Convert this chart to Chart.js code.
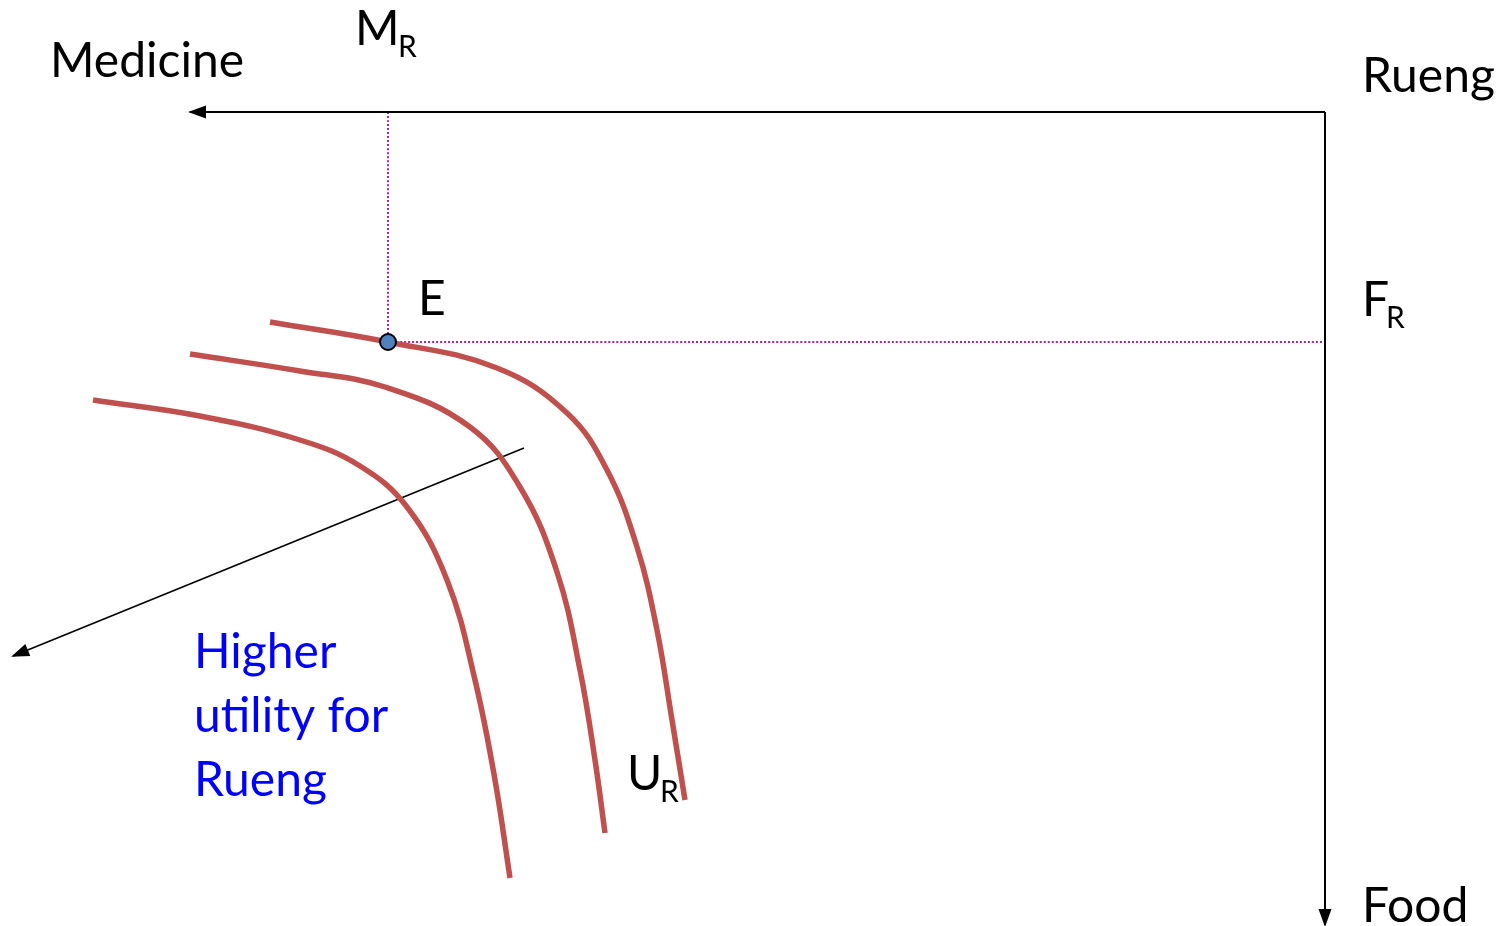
<!DOCTYPE html>
<html>
<head>
<meta charset="utf-8">
<script src="https://cdn.jsdelivr.net/npm/chart.js@4/dist/chart.umd.min.js"></script>
<style>
  body { margin: 0; background: #fff; }
  #wrap { width: 1510px; height: 926px; }
</style>
</head>
<body>
<div id="wrap"><canvas id="chart"></canvas></div>
<script>
// Edgeworth-box style diagram, origin at Rueng (top right)
// medicine is measured to the left, food is measured downward

// indifference curves: medicine, food pairs
const curveUR = [[10.55, 2.10], [9.37, 2.30], [8.28, 2.56], [7.58, 3.01], [7.18, 3.58],
                 [6.88, 4.35], [6.68, 5.18], [6.53, 6.08], [6.40, 6.88]];
const curveMid = [[11.35, 2.42], [10.25, 2.59], [9.40, 2.75], [8.55, 3.15], [8.05, 3.75],
                  [7.68, 4.60], [7.45, 5.58], [7.30, 6.48], [7.20, 7.21]];
const curveHigh = [[12.32, 2.88], [11.25, 3.04], [10.25, 3.28], [9.65, 3.54], [9.18, 3.95],
                   [8.78, 4.68], [8.50, 5.68], [8.30, 6.68], [8.15, 7.66]];

// equilibrium point E
const pointE = [9.37, 2.30];

// axes and arrow
const medicineAxis = [[0, 0], [11.35, 0]];
const foodAxis = [[0, 0], [0, 8.13]];
const utilityArrow = [[8.01, 3.36], [13.12, 5.44]];

// text labels: text, medicine, food (baseline)
const labels = [
  ['Medicine', 12.75, -0.35, 'big', '#000'],
  ['M', 9.70, -0.67, 'big', '#000'],
  ['R', 9.27, -0.55, 'sub', '#000'],
  ['Rueng', -0.37, -0.20, 'big', '#000'],
  ['E', 9.07, 2.03, 'big', '#000'],
  ['F', -0.37, 2.04, 'big', '#000'],
  ['R', -0.61, 2.16, 'sub', '#000'],
  ['U', 6.98, 6.78, 'big', '#000'],
  ['R', 6.65, 6.90, 'sub', '#000'],
  ['Food', -0.37, 8.10, 'big', '#000'],
  ['Higher', 11.31, 5.56, 'big', '#0000FF'],
  ['utility for', 11.31, 6.20, 'big', '#0000FF'],
  ['Rueng', 11.31, 6.84, 'big', '#0000FF']
];

function toXY(arr) {
  return arr.map(p => ({ x: p[0], y: p[1] }));
}

const curveColor = '#C0504D';
const dotColor = '#9E2A9E';

function lineSet(points, color, width, order, dash) {
  return {
    data: toXY(points),
    showLine: true,
    borderColor: color,
    borderWidth: width,
    borderDash: dash || [],
    pointRadius: 0,
    tension: 0.4,
    fill: false,
    clip: false,
    order: order
  };
}

// arrowheads at the end of the axes and the utility arrow
const arrowPlugin = {
  id: 'arrows',
  afterDatasetsDraw(chart) {
    const ctx = chart.ctx;
    [3, 4, 5].forEach(i => {
      const pts = chart.getDatasetMeta(i).data;
      const a = pts[pts.length - 2], b = pts[pts.length - 1];
      const ang = Math.atan2(b.y - a.y, b.x - a.x);
      const len = 16, half = 6.5;
      ctx.save();
      ctx.translate(b.x, b.y);
      ctx.rotate(ang);
      ctx.beginPath();
      ctx.moveTo(2, 0);
      ctx.lineTo(-len, -half);
      ctx.lineTo(-len, half);
      ctx.closePath();
      ctx.fillStyle = '#000';
      ctx.fill();
      ctx.restore();
    });
  }
};

const textPlugin = {
  id: 'texts',
  afterDraw(chart) {
    const ctx = chart.ctx;
    const xs = chart.scales.x, ys = chart.scales.y;
    ctx.save();
    ctx.textAlign = 'left';
    ctx.textBaseline = 'alphabetic';
    labels.forEach(l => {
      ctx.font = l[3] === 'big' ? '48px Lato' : '30px Lato';
      ctx.fillStyle = l[4];
      ctx.fillText(l[0], xs.getPixelForValue(l[1]), ys.getPixelForValue(l[2]));
    });
    ctx.restore();
  }
};

new Chart(document.getElementById('chart'), {
  type: 'scatter',
  data: {
    datasets: [
      {
        data: toXY([pointE]),
        pointRadius: 8,
        pointBackgroundColor: '#4F81BD',
        pointBorderColor: '#000',
        pointBorderWidth: 2,
        showLine: false,
        clip: false,
        order: 0
      },
      lineSet([pointE, [pointE[0], 0]], dotColor, 2, 3, [2, 2]),
      lineSet([pointE, [0, pointE[1]]], dotColor, 2, 3, [2, 2]),
      lineSet(medicineAxis, '#000', 2, 2),
      lineSet(foodAxis, '#000', 2, 2),
      lineSet(utilityArrow, '#000', 1.6, 2),
      lineSet(curveUR, curveColor, 5.5, 1),
      lineSet(curveMid, curveColor, 5.5, 1),
      lineSet(curveHigh, curveColor, 5.5, 1)
    ]
  },
  options: {
    responsive: true,
    maintainAspectRatio: false,
    animation: false,
    layout: { padding: 0, autoPadding: false },
    plugins: {
      legend: { display: false },
      tooltip: { enabled: false }
    },
    scales: {
      x: { type: 'linear', reverse: true, min: -1.85, max: 13.25, display: false },
      y: { type: 'linear', reverse: true, min: -1.12, max: 8.14, display: false }
    }
  },
  plugins: [arrowPlugin, textPlugin]
});
</script>
</body>
</html>
